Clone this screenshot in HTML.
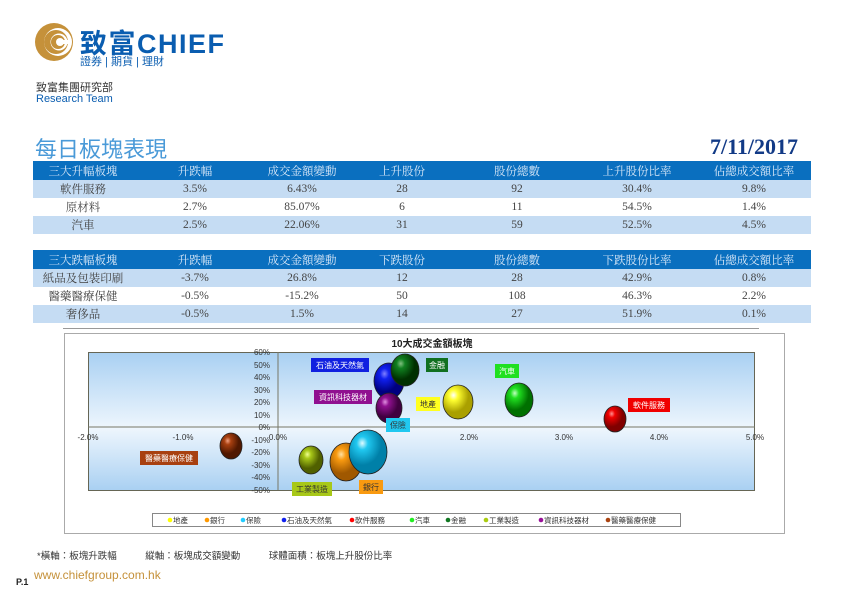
<!DOCTYPE html>
<html><head><meta charset="utf-8"><style>
*{margin:0;padding:0;box-sizing:border-box}
body{width:842px;height:595px;background:#fff;position:relative;overflow:hidden;font-family:"Liberation Sans","Noto Sans CJK TC",sans-serif}
.a{position:absolute;white-space:nowrap}
table{position:absolute;left:33px;width:778px;border-collapse:collapse;table-layout:fixed;font-family:"Liberation Serif","Noto Serif CJK SC",serif;font-size:11.5px;color:#444}
td{height:18px;text-align:center;padding:0}
tr.h td{background:#0a6fbf;color:#dbe9f8;height:19px}
tr.l td{background:#c5dcf3}
tr.w td{background:#fff}
</style></head><body>
<svg class="a" style="left:34px;top:22px" width="40" height="40" viewBox="0 0 40 40">
<circle cx="20" cy="20" r="19" fill="#c5913a"/><circle cx="24" cy="20" r="14" fill="#fff"/>
<circle cx="22" cy="20" r="12" fill="#c5913a"/><circle cx="25" cy="20" r="8.5" fill="#fff"/>
<circle cx="24" cy="20" r="7" fill="#c5913a"/><circle cx="26" cy="20" r="4" fill="#fff"/><rect x="26" y="18" width="8" height="4" fill="#fff"/></svg>
<div class="a" style="left:80px;top:22px;font-size:27px;font-weight:bold;color:#0a5db0;letter-spacing:1.5px">致富CHIEF</div>
<div class="a" style="left:80px;top:53px;font-size:11px;color:#0a5db0">證券 | 期貨 | 理財</div>
<div class="a" style="left:36px;top:79px;font-size:11px;color:#333">致富集團研究部</div>
<div class="a" style="left:36px;top:93px;font-size:11px;color:#0a5db0">Research Team</div>
<div class="a" style="left:35px;top:132px;font-size:22px;color:#4a9ad8">每日板塊表現</div>
<div class="a" style="right:44px;top:134px;font-size:22px;font-weight:bold;color:#123a86;font-family:'Liberation Serif',serif">7/11/2017</div>
<table style="top:161px">
<colgroup><col style="width:100px"><col style="width:124px"><col style="width:90px"><col style="width:110px"><col style="width:120px"><col style="width:120px"><col style="width:114px"></colgroup>
<tr class="h"><td>三大升幅板塊</td><td>升跌幅</td><td>成交金額變動</td><td>上升股份</td><td>股份總數</td><td>上升股份比率</td><td>佔總成交額比率</td></tr>
<tr class="l"><td>軟件服務</td><td>3.5%</td><td>6.43%</td><td>28</td><td>92</td><td>30.4%</td><td>9.8%</td></tr>
<tr class="w"><td>原材料</td><td>2.7%</td><td>85.07%</td><td>6</td><td>11</td><td>54.5%</td><td>1.4%</td></tr>
<tr class="l"><td>汽車</td><td>2.5%</td><td>22.06%</td><td>31</td><td>59</td><td>52.5%</td><td>4.5%</td></tr>
</table>
<table style="top:250px">
<colgroup><col style="width:100px"><col style="width:124px"><col style="width:90px"><col style="width:110px"><col style="width:120px"><col style="width:120px"><col style="width:114px"></colgroup>
<tr class="h"><td>三大跌幅板塊</td><td>升跌幅</td><td>成交金額變動</td><td>下跌股份</td><td>股份總數</td><td>下跌股份比率</td><td>佔總成交額比率</td></tr>
<tr class="l"><td>紙品及包裝印刷</td><td>-3.7%</td><td>26.8%</td><td>12</td><td>28</td><td>42.9%</td><td>0.8%</td></tr>
<tr class="w"><td>醫藥醫療保健</td><td>-0.5%</td><td>-15.2%</td><td>50</td><td>108</td><td>46.3%</td><td>2.2%</td></tr>
<tr class="l"><td>奢侈品</td><td>-0.5%</td><td>1.5%</td><td>14</td><td>27</td><td>51.9%</td><td>0.1%</td></tr>
</table>
<div class="a" style="left:63px;top:328px;width:696px;height:1px;background:#999"></div>
<svg class="a" style="left:0;top:0" width="842" height="595" font-family="Liberation Sans, Noto Sans CJK TC, sans-serif">
<defs><linearGradient id="bg" x1="0" y1="0" x2="0" y2="1"><stop offset="0" stop-color="#a9d0f2"/><stop offset="0.55" stop-color="#eef6fd"/><stop offset="1" stop-color="#a9d0f2"/></linearGradient>
<radialGradient id="gY" cx="0.35" cy="0.3"><stop offset="0" stop-color="#fff"/><stop offset="0.3" stop-color="#ffff30"/><stop offset="1" stop-color="#aaa000"/></radialGradient>
<radialGradient id="gO" cx="0.35" cy="0.3"><stop offset="0" stop-color="#ffe0a0"/><stop offset="0.3" stop-color="#f99a10"/><stop offset="1" stop-color="#a05800"/></radialGradient>
<radialGradient id="gC" cx="0.35" cy="0.3"><stop offset="0" stop-color="#e0fbff"/><stop offset="0.3" stop-color="#20c8f0"/><stop offset="1" stop-color="#0080a8"/></radialGradient>
<radialGradient id="gB" cx="0.35" cy="0.3"><stop offset="0" stop-color="#8080ff"/><stop offset="0.3" stop-color="#1020f0"/><stop offset="1" stop-color="#000080"/></radialGradient>
<radialGradient id="gR" cx="0.35" cy="0.3"><stop offset="0" stop-color="#ff9090"/><stop offset="0.3" stop-color="#f00000"/><stop offset="1" stop-color="#800000"/></radialGradient>
<radialGradient id="gG" cx="0.35" cy="0.3"><stop offset="0" stop-color="#c0ffc0"/><stop offset="0.3" stop-color="#20e020"/><stop offset="1" stop-color="#007000"/></radialGradient>
<radialGradient id="gD" cx="0.35" cy="0.3"><stop offset="0" stop-color="#80c080"/><stop offset="0.3" stop-color="#108020"/><stop offset="1" stop-color="#003000"/></radialGradient>
<radialGradient id="gL" cx="0.35" cy="0.3"><stop offset="0" stop-color="#f0ff90"/><stop offset="0.3" stop-color="#a8c818"/><stop offset="1" stop-color="#506000"/></radialGradient>
<radialGradient id="gP" cx="0.35" cy="0.3"><stop offset="0" stop-color="#e090e0"/><stop offset="0.3" stop-color="#901090"/><stop offset="1" stop-color="#400040"/></radialGradient>
<radialGradient id="gM" cx="0.35" cy="0.3"><stop offset="0" stop-color="#f0a080"/><stop offset="0.3" stop-color="#a84010"/><stop offset="1" stop-color="#501800"/></radialGradient></defs>
<rect x="64.5" y="333.5" width="720" height="200" fill="#fff" stroke="#aaa"/>
<text x="432" y="347" font-size="10" font-weight="bold" text-anchor="middle" fill="#222">10大成交金額板塊</text>
<rect x="88.5" y="352.5" width="666" height="138" fill="url(#bg)" stroke="#665" stroke-width="1"/>
<line x1="88" y1="427" x2="755" y2="427" stroke="#776"/><line x1="278" y1="352" x2="278" y2="490" stroke="#776"/>
<g font-size="8" fill="#333" text-anchor="end">
<text x="270" y="355">60%</text><text x="270" y="368">50%</text><text x="270" y="380">40%</text><text x="270" y="393">30%</text><text x="270" y="405">20%</text><text x="270" y="418">10%</text><text x="270" y="430">0%</text><text x="270" y="443">-10%</text><text x="270" y="455">-20%</text><text x="270" y="468">-30%</text><text x="270" y="480">-40%</text><text x="270" y="493">-50%</text></g>
<g font-size="8" fill="#333" text-anchor="middle">
<text x="88" y="440">-2.0%</text><text x="183" y="440">-1.0%</text><text x="278" y="440">0.0%</text><text x="373" y="440">1.0%</text><text x="469" y="440">2.0%</text><text x="564" y="440">3.0%</text><text x="659" y="440">4.0%</text><text x="755" y="440">5.0%</text></g>
<g stroke="#222" stroke-width="0.8">
<ellipse cx="231" cy="446" rx="11" ry="13" fill="url(#gM)"/>
<ellipse cx="311" cy="460" rx="12" ry="14" fill="url(#gL)"/>
<ellipse cx="346" cy="462" rx="16" ry="19" fill="url(#gO)"/>
<ellipse cx="368" cy="452" rx="19" ry="22" fill="url(#gC)"/>
<ellipse cx="389" cy="381" rx="15" ry="18" fill="url(#gB)"/>
<ellipse cx="405" cy="370" rx="14" ry="16" fill="url(#gD)"/>
<ellipse cx="389" cy="408" rx="13" ry="15" fill="url(#gP)"/>
<ellipse cx="458" cy="402" rx="15" ry="17" fill="url(#gY)"/>
<ellipse cx="519" cy="400" rx="14" ry="17" fill="url(#gG)"/>
<ellipse cx="615" cy="419" rx="11" ry="13" fill="url(#gR)"/></g>
<g font-size="8">
<rect x="311" y="358" width="58" height="14" fill="#1020e0"/><text x="340" y="368" fill="#fff" text-anchor="middle">石油及天然氣</text>
<rect x="426" y="358" width="22" height="14" fill="#107020"/><text x="437" y="368" fill="#fff" text-anchor="middle">金融</text>
<rect x="495" y="364" width="24" height="14" fill="#20e020"/><text x="507" y="374" fill="#fff" text-anchor="middle">汽車</text>
<rect x="314" y="390" width="58" height="14" fill="#901090"/><text x="343" y="400" fill="#fff" text-anchor="middle">資訊科技器材</text>
<rect x="416" y="397" width="24" height="14" fill="#ffff20"/><text x="428" y="407" fill="#333" text-anchor="middle">地產</text>
<rect x="628" y="398" width="42" height="14" fill="#f00000"/><text x="649" y="408" fill="#fff" text-anchor="middle">軟件服務</text>
<rect x="386" y="418" width="24" height="14" fill="#20c8f0"/><text x="398" y="428" fill="#333" text-anchor="middle">保險</text>
<rect x="140" y="451" width="58" height="14" fill="#a84010"/><text x="169" y="461" fill="#fff" text-anchor="middle">醫藥醫療保健</text>
<rect x="292" y="482" width="40" height="14" fill="#a8c818"/><text x="312" y="492" fill="#333" text-anchor="middle">工業製造</text>
<rect x="359" y="480" width="24" height="14" fill="#f99a10"/><text x="371" y="490" fill="#333" text-anchor="middle">銀行</text></g>
<rect x="152.5" y="513.5" width="528" height="13" fill="#fff" stroke="#888"/>
<g font-size="7.5" fill="#333">
<circle cx="170" cy="520" r="2.3" fill="#ff0"/><text x="173" y="523">地產</text>
<circle cx="207" cy="520" r="2.3" fill="#f90"/><text x="210" y="523">銀行</text>
<circle cx="243" cy="520" r="2.3" fill="#2cf"/><text x="246" y="523">保險</text>
<circle cx="284" cy="520" r="2.3" fill="#12e"/><text x="287" y="523">石油及天然氣</text>
<circle cx="352" cy="520" r="2.3" fill="#f00"/><text x="355" y="523">軟件服務</text>
<circle cx="412" cy="520" r="2.3" fill="#2e2"/><text x="415" y="523">汽車</text>
<circle cx="448" cy="520" r="2.3" fill="#172"/><text x="451" y="523">金融</text>
<circle cx="486" cy="520" r="2.3" fill="#ac1"/><text x="489" y="523">工業製造</text>
<circle cx="541" cy="520" r="2.3" fill="#919"/><text x="544" y="523">資訊科技器材</text>
<circle cx="608" cy="520" r="2.3" fill="#a41"/><text x="611" y="523">醫藥醫療保健</text></g>
</svg>
<div class="a" style="left:37px;top:548px;font-size:9.5px;color:#333">*橫軸：板塊升跌幅　　　縱軸：板塊成交額變動　　　球體面積：板塊上升股份比率</div>
<div class="a" style="left:16px;top:577px;font-size:9px;font-weight:bold;color:#222">P.1</div>
<div class="a" style="left:34px;top:568px;font-size:12px;color:#c5913a">www.chiefgroup.com.hk</div>
</body></html>
